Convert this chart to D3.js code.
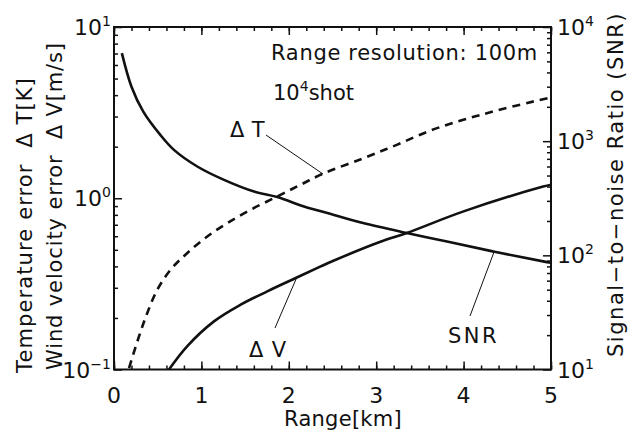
<!DOCTYPE html>
<html>
<head>
<meta charset="utf-8">
<script src="https://cdn.jsdelivr.net/npm/d3@7"></script>
<style>
  body { margin: 0; background: #fff; }
  svg { display: block; }
  text { font-family: "DejaVu Sans", "Liberation Sans", Arial, sans-serif; fill: #111; white-space: pre; }
</style>
</head>
<body>
<svg id="chart" width="628" height="432"></svg>
<script>
// range [km] and values
var snrRange = [0.09, 0.2, 0.335, 0.53, 0.686, 0.953, 1.259, 1.602, 1.868, 2.174, 2.517, 2.85, 3.35, 3.81, 4.34, 4.91, 5.0];
var snrValues = [5900, 3000, 1815, 1135, 839, 600, 458, 362, 324, 268, 226, 192, 157, 132, 108, 88.5, 86];

var dvRange = [0.629, 0.839, 1.144, 1.449, 1.754, 2.079, 2.365, 2.517, 3.04, 3.35, 4.0, 4.91, 5.0];
var dvValues = [0.1, 0.137, 0.191, 0.239, 0.286, 0.342, 0.40, 0.433, 0.555, 0.627, 0.838, 1.17, 1.2];

var dtRange = [0.172, 0.286, 0.381, 0.495, 0.649, 0.839, 1.067, 1.296, 1.564, 1.868, 2.136, 2.403, 2.85, 3.235, 3.616, 3.997, 4.379, 4.91, 5.0];
var dtValues = [0.102, 0.156, 0.214, 0.292, 0.383, 0.479, 0.598, 0.716, 0.857, 1.024, 1.20, 1.40, 1.71, 2.05, 2.48, 2.87, 3.25, 3.79, 3.88];

var xMajor = [0, 1, 2, 3, 4, 5];
var leftDecades = [{v: 10, e: "1"}, {v: 1, e: "0"}, {v: 0.1, e: "−1"}];
var rightDecades = [{v: 1e4, e: "4"}, {v: 1e3, e: "3"}, {v: 1e2, e: "2"}, {v: 10, e: "1"}];

var svg = d3.select("#chart");
var L = 114, R = 551, T = 27, B = 369.5;

var x = d3.scaleLinear().domain([0, 5]).range([L, R]);
var yL = d3.scaleLog().domain([0.1, 10]).range([B, T]);
var yR = d3.scaleLog().domain([10, 1e4]).range([B, T]);

function logMinors(lo, hi) {
  var out = [];
  for (var d = lo; d < hi; d *= 10)
    for (var k = 2; k <= 9; k++) out.push(d * k);
  return out;
}
var xMinor = d3.range(0, 5.001, 0.2).map(function(d) { return +d.toFixed(1); });

// stretch a text to the width it has in the picture
function fit(sel, width) {
  var n = sel.text().length;
  var len = sel.node().getComputedTextLength();
  sel.attr("letter-spacing", ((width - len) / n).toFixed(2));
  return sel;
}

function axisLayer(axis, tx, ty) {
  var g = svg.append("g").attr("transform", "translate(" + tx + "," + ty + ")").call(axis);
  g.select(".domain").remove();
  g.selectAll("line").attr("stroke", "#111").attr("stroke-width", 1.5);
  g.selectAll("text").remove();
  return g;
}

axisLayer(d3.axisBottom(x).tickValues(xMinor).tickSize(-4).tickFormat(""), 0, B);
axisLayer(d3.axisBottom(x).tickValues(xMajor).tickSize(-8).tickFormat(""), 0, B);
axisLayer(d3.axisTop(x).tickValues(xMinor).tickSize(-4).tickFormat(""), 0, T);
axisLayer(d3.axisTop(x).tickValues(xMajor).tickSize(-8).tickFormat(""), 0, T);
axisLayer(d3.axisLeft(yL).tickValues(logMinors(0.1, 10)).tickSize(-4).tickFormat(""), L, 0);
axisLayer(d3.axisLeft(yL).tickValues([0.1, 1, 10]).tickSize(-8).tickFormat(""), L, 0);
axisLayer(d3.axisRight(yR).tickValues(logMinors(10, 1e4)).tickSize(-4).tickFormat(""), R, 0);
axisLayer(d3.axisRight(yR).tickValues([10, 100, 1e3, 1e4]).tickSize(-8).tickFormat(""), R, 0);

svg.append("rect")
  .attr("x", L).attr("y", T).attr("width", R - L).attr("height", B - T)
  .attr("fill", "none").attr("stroke", "#111").attr("stroke-width", 2);

// curves
var snrLine = d3.line().x(function(d) { return x(d[0]); }).y(function(d) { return yR(d[1]); }).curve(d3.curveCatmullRom);
var errLine = d3.line().x(function(d) { return x(d[0]); }).y(function(d) { return yL(d[1]); }).curve(d3.curveCatmullRom);

svg.append("path").datum(d3.zip(snrRange, snrValues)).attr("d", snrLine)
  .attr("fill", "none").attr("stroke", "#111").attr("stroke-width", 2.6);
svg.append("path").datum(d3.zip(dvRange, dvValues)).attr("d", errLine)
  .attr("fill", "none").attr("stroke", "#111").attr("stroke-width", 2.6);
svg.append("path").datum(d3.zip(dtRange, dtValues)).attr("d", errLine)
  .attr("fill", "none").attr("stroke", "#111").attr("stroke-width", 2.6)
  .attr("stroke-dasharray", "8,6");

// tick labels
svg.selectAll(".xl").data(xMajor).enter().append("text")
  .attr("x", function(d) { return x(d); }).attr("y", 403)
  .attr("text-anchor", "middle").attr("font-size", 22)
  .attr("font-family", "Liberation Sans, Arial, sans-serif")
  .text(function(d) { return d; });

function powLabel(xx, yy, e, anchor) {
  var t = svg.append("text").attr("x", xx).attr("y", yy).attr("font-size", 22)
    .attr("font-family", "Liberation Sans, Arial, sans-serif").attr("text-anchor", anchor);
  t.append("tspan").text("10");
  t.append("tspan").attr("dy", -9).attr("font-size", 14).text(e);
  return t;
}
leftDecades.forEach(function(d) { powLabel(111, yL(d.v) + 8, d.e, "end"); });
rightDecades.forEach(function(d) { powLabel(557, yR(d.v) + 8, d.e, "start"); });

// axis titles
fit(svg.append("text").attr("x", 284).attr("y", 426).attr("font-size", 21).text("Range[km]"), 118);
fit(svg.append("text").attr("transform", "translate(32,373) rotate(-90)")
  .attr("font-size", 21).text("Temperature error  Δ T[K]"), 296);
fit(svg.append("text").attr("transform", "translate(62,370) rotate(-90)")
  .attr("font-size", 21).text("Wind velocity error  Δ V[m/s]"), 328);
fit(svg.append("text").attr("transform", "translate(623,357) rotate(-90)")
  .attr("font-size", 21).text("Signal−to−noise Ratio (SNR)"), 345);

// annotations
fit(svg.append("text").attr("x", 271).attr("y", 60).attr("font-size", 21).text("Range resolution: 100m"), 267);
var shot = svg.append("text").attr("x", 273).attr("y", 100).attr("font-size", 21);
shot.append("tspan").text("10");
shot.append("tspan").attr("dy", -9).attr("font-size", 14).text("4");
shot.append("tspan").attr("dy", 9).text("shot");

function callout(label, tx, ty, w, x1, y1, x2, y2) {
  fit(svg.append("text").attr("x", tx).attr("y", ty).attr("font-size", 21).text(label), w);
  svg.append("line").attr("x1", x1).attr("y1", y1).attr("x2", x2).attr("y2", y2)
    .attr("stroke", "#111").attr("stroke-width", 1);
}
callout("Δ T", 230, 137, 35, 266, 135, 323, 174);
callout("Δ V", 249, 357, 38, 275, 328, 296.5, 278);
callout("SNR", 448, 343, 51, 470, 316, 494, 252);
</script>
</body>
</html>
